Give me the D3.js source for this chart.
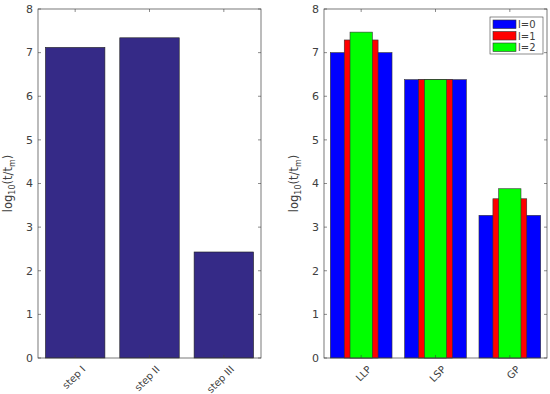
<!DOCTYPE html>
<html>
<head>
<meta charset="utf-8">
<script src="https://cdn.jsdelivr.net/npm/d3@7"></script>
<style>
  body { margin: 0; background: #fff; }
  svg { font-family: "DejaVu Sans", sans-serif; }
</style>
</head>
<body>
<div id="chart"></div>
<script>
    // left panel
    const stepNames = ["step I", "step II", "step III"];
    const stepValues = [7.12, 7.34, 2.43];

    // right panel
    const methodNames = ["LLP", "LSP", "GP"];
    const seriesNames = ["l=0", "l=1", "l=2"];
    const seriesValues = [
      [7.00, 6.38, 3.27],
      [7.29, 6.38, 3.65],
      [7.47, 6.38, 3.88]
    ];
    const yTicks = [0, 1, 2, 3, 4, 5, 6, 7, 8];

    const svg = d3.select("#chart").append("svg")
      .attr("width", 550)
      .attr("height", 394);

    const axisColor = "#404040";
    const plotTop = 9, plotBottom = 358;
    const y = d3.scaleLinear().domain([0, 8]).range([plotBottom, plotTop]);

    function drawFrame(left, right) {
      const g = svg.append("g");
      const x = d3.scaleLinear().domain([0.5, 3.5]).range([left, right]);

      // y ticks and labels
      yTicks.forEach(t => {
        g.append("line").attr("x1", left).attr("x2", left + 3)
          .attr("y1", y(t)).attr("y2", y(t)).attr("stroke", axisColor).attr("stroke-width", 0.6);
        g.append("line").attr("x1", right).attr("x2", right - 3)
          .attr("y1", y(t)).attr("y2", y(t)).attr("stroke", axisColor).attr("stroke-width", 0.6);
        g.append("text")
          .attr("x", left - 5).attr("y", y(t))
          .attr("dy", "0.35em")
          .attr("text-anchor", "end")
          .attr("font-size", 11)
          .attr("fill", axisColor)
          .text(t);
      });
      return { g, x };
    }

    function finishFrame(g, x, left, right, labels) {
      [1, 2, 3].forEach((c, i) => {
        g.append("line").attr("x1", x(c)).attr("x2", x(c))
          .attr("y1", plotTop).attr("y2", plotTop + 3).attr("stroke", axisColor).attr("stroke-width", 0.6);
        g.append("line").attr("x1", x(c)).attr("x2", x(c))
          .attr("y1", plotBottom).attr("y2", plotBottom - 3).attr("stroke", axisColor).attr("stroke-width", 0.6);
        g.append("text")
          .attr("transform", `translate(${x(c) + 6},${plotBottom + 7}) rotate(-45)`)
          .attr("text-anchor", "end")
          .attr("dy", "0.7em")
          .attr("font-size", 10)
          .attr("fill", axisColor)
          .text(labels[i]);
      });
      g.append("rect")
        .attr("x", left).attr("y", plotTop)
        .attr("width", right - left).attr("height", plotBottom - plotTop)
        .attr("fill", "none").attr("stroke", axisColor).attr("stroke-width", 0.7);

      // y label: log10(t/tm)
      const lab = g.append("text")
        .attr("transform", `translate(${left - 26},${(plotTop + plotBottom) / 2}) rotate(-90)`)
        .attr("text-anchor", "middle")
        .attr("font-size", 11.5)
        .attr("fill", axisColor);
      lab.append("tspan").text("log");
      lab.append("tspan").attr("font-size", 8).attr("dy", 3).text("10");
      lab.append("tspan").attr("dy", -3).text("(t/t");
      lab.append("tspan").attr("font-size", 8).attr("dy", 3).text("m");
      lab.append("tspan").attr("dy", -3).text(")");
    }

    // left chart
    {
      const left = 38, right = 261;
      const { g, x } = drawFrame(left, right);
      const bw = (x(2) - x(1)) * 0.8;
      g.selectAll(".bar")
        .data(stepValues)
        .enter().append("rect")
        .attr("x", (d, i) => x(i + 1) - bw / 2)
        .attr("y", d => y(d))
        .attr("width", bw)
        .attr("height", d => y(0) - y(d))
        .attr("fill", "#352a87")
        .attr("stroke", "#222")
        .attr("stroke-width", 0.6);
      finishFrame(g, x, left, right, stepNames);
    }

    // right chart
    {
      const left = 324, right = 547;
      const { g, x } = drawFrame(left, right);
      const step = x(2) - x(1);
      const widths = [0.83, 0.455, 0.3].map(f => f * step);
      const colors = ["#0000ff", "#ff0000", "#00ff00"];
      seriesValues.forEach((vals, s) => {
        g.selectAll(".s" + s)
          .data(vals)
          .enter().append("rect")
          .attr("x", (d, i) => x(i + 1) - widths[s] / 2)
          .attr("y", d => y(d))
          .attr("width", widths[s])
          .attr("height", d => y(0) - y(d))
          .attr("fill", colors[s])
          .attr("stroke", "#333")
          .attr("stroke-width", 0.6);
      });
      finishFrame(g, x, left, right, methodNames);

      // legend
      const lg = svg.append("g").attr("transform", "translate(490,17)");
      lg.append("rect").attr("width", 53).attr("height", 37)
        .attr("fill", "#fff").attr("stroke", axisColor).attr("stroke-width", 0.6);
      seriesNames.forEach((n, i) => {
        lg.append("rect")
          .attr("x", 3).attr("y", 3 + i * 11.5)
          .attr("width", 23).attr("height", 8.5)
          .attr("fill", colors[i]).attr("stroke", "#333").attr("stroke-width", 0.6);
        lg.append("text")
          .attr("x", 28).attr("y", 7.5 + i * 11.5)
          .attr("dy", "0.35em")
          .attr("font-size", 10)
          .attr("fill", axisColor)
          .text(n);
      });
    }
</script>
</body>
</html>
